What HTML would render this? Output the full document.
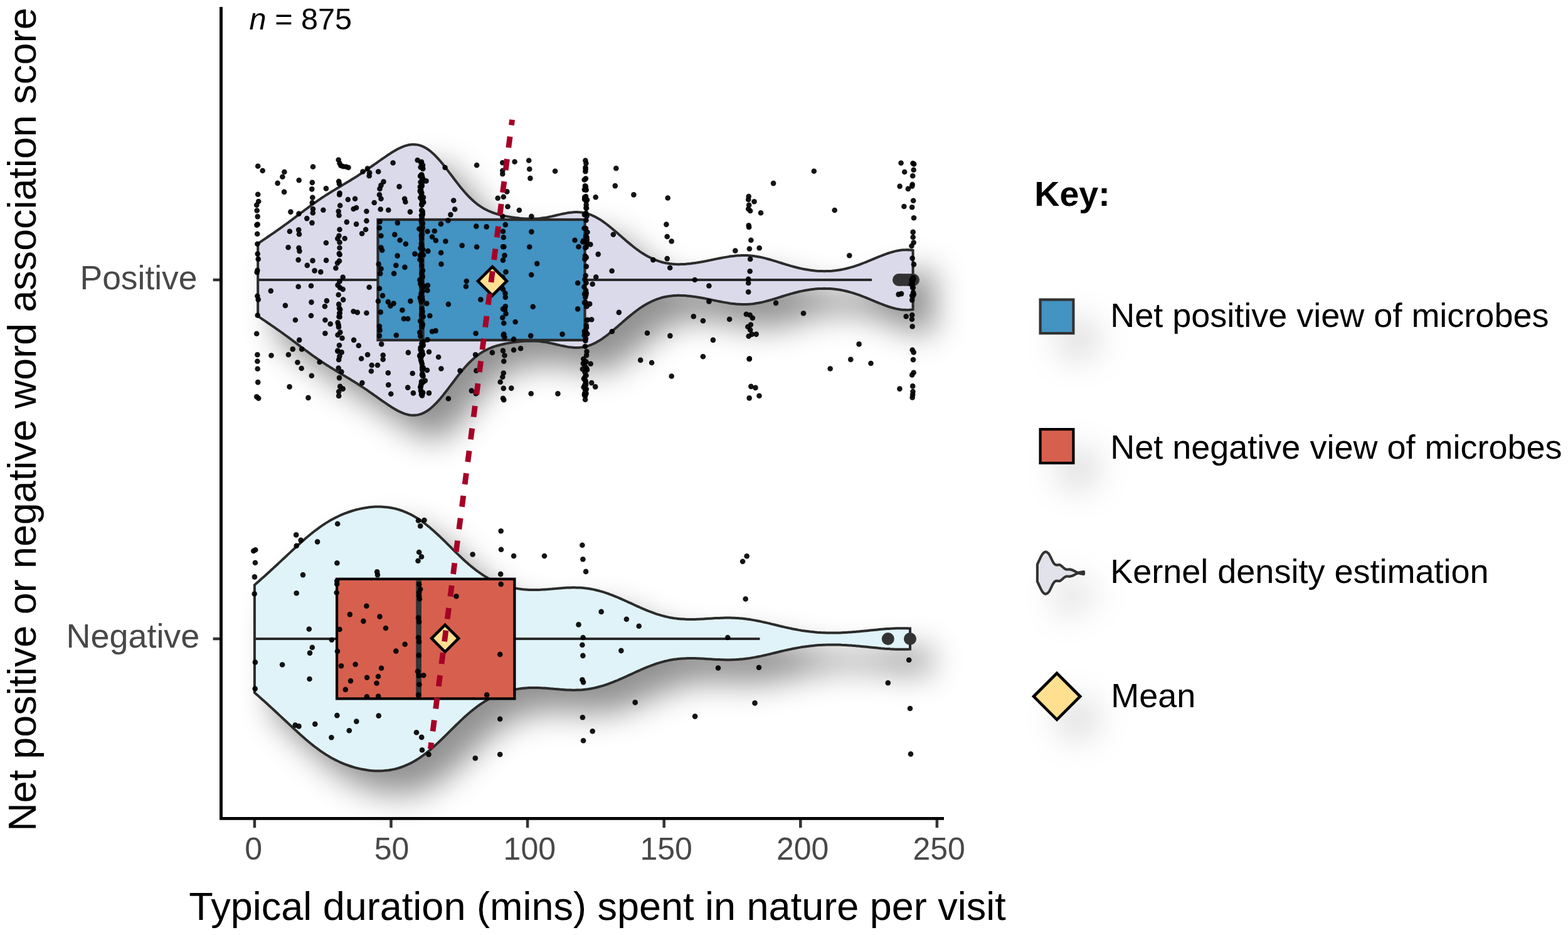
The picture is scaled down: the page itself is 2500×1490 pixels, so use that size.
<!DOCTYPE html>
<html lang="en"><head><meta charset="utf-8">
<title>Typical duration spent in nature per visit by net word association score</title>
<style>
html,body{margin:0;padding:0;background:#fff;}
body{width:2500px;height:1490px;overflow:hidden;}
svg{display:block;}
text{font-family:"Liberation Sans",sans-serif;}
.tk{fill:#484848;}
.lg{font-size:54px;fill:#000;}
.ax{font-size:62.8px;fill:#000;}
</style></head><body>
<svg width="2500" height="1490" viewBox="0 0 2500 1490" role="img" aria-label="Violin and box plots of typical duration spent in nature per visit by net word association score">
<defs>
<filter id="sh" x="-15%" y="-40%" width="135%" height="190%" color-interpolation-filters="sRGB"><feGaussianBlur in="SourceAlpha" stdDeviation="25"/><feOffset dx="32" dy="35" result="o"/><feFlood flood-color="#000" flood-opacity="0.43"/><feComposite in2="o" operator="in"/><feMerge><feMergeNode/><feMergeNode in="SourceGraphic"/></feMerge></filter>
<filter id="shl" x="-100%" y="-100%" width="400%" height="400%" color-interpolation-filters="sRGB"><feGaussianBlur in="SourceAlpha" stdDeviation="26"/><feOffset dx="33" dy="36" result="o"/><feFlood flood-color="#000" flood-opacity="0.15"/><feComposite in2="o" operator="in"/><feMerge><feMergeNode/><feMergeNode in="SourceGraphic"/></feMerge></filter>
</defs>
<rect width="2500" height="1490" fill="#fff"/>
<g filter="url(#sh)">
<path d="M411.2 388.3L414.2 386.2L417.2 384.2L420.2 382.1L423.2 380.1L426.2 378.0L429.2 376.0L432.2 373.9L435.2 371.9L438.2 369.8L441.2 367.7L444.2 365.6L447.2 363.5L450.2 361.3L453.2 359.2L456.2 357.0L459.2 354.8L462.2 352.6L465.2 350.3L468.2 348.1L471.2 345.8L474.2 343.6L477.2 341.3L480.2 339.0L483.2 336.8L486.2 334.5L489.2 332.3L492.2 330.1L495.2 327.9L498.2 325.7L501.2 323.6L504.2 321.5L507.2 319.4L510.2 317.3L513.2 315.3L516.2 313.4L519.2 311.4L522.2 309.5L525.2 307.6L528.2 305.8L531.2 303.9L534.2 302.1L537.2 300.3L540.2 298.5L543.2 296.7L546.2 294.9L549.2 293.1L552.2 291.3L555.2 289.5L558.2 287.7L561.2 285.8L564.2 284.0L567.2 282.1L570.2 280.2L573.2 278.2L576.2 276.3L579.2 274.3L582.2 272.3L585.2 270.3L588.2 268.2L591.2 266.1L594.2 264.0L597.2 261.9L600.2 259.8L603.2 257.7L606.2 255.5L609.2 253.4L612.2 251.3L615.2 249.3L618.2 247.2L621.2 245.3L624.2 243.3L627.2 241.5L630.2 239.7L633.2 238.0L636.2 236.5L639.2 235.1L642.2 233.8L645.2 232.7L648.2 231.8L651.2 231.0L654.2 230.5L657.2 230.2L660.2 230.2L663.2 230.4L666.2 230.9L669.2 231.6L672.2 232.6L675.2 233.9L678.2 235.5L681.2 237.3L684.2 239.4L687.2 241.8L690.2 244.4L693.2 247.3L696.2 250.3L699.2 253.6L702.2 257.0L705.2 260.6L708.2 264.4L711.2 268.2L714.2 272.1L717.2 276.1L720.2 280.0L723.2 284.0L726.2 288.0L729.2 291.9L732.2 295.7L735.2 299.4L738.2 303.0L741.2 306.5L744.2 309.8L747.2 313.0L750.2 316.0L753.2 318.8L756.2 321.5L759.2 324.0L762.2 326.3L765.2 328.4L768.2 330.4L771.2 332.2L774.2 333.8L777.2 335.3L780.2 336.7L783.2 337.9L786.2 339.0L789.2 340.1L792.2 341.0L795.2 341.8L798.2 342.6L801.2 343.3L804.2 344.0L807.2 344.6L810.2 345.1L813.2 345.6L816.2 346.1L819.2 346.6L822.2 347.0L825.2 347.3L828.2 347.7L831.2 348.0L834.2 348.2L837.2 348.4L840.2 348.5L843.2 348.6L846.2 348.7L849.2 348.6L852.2 348.6L855.2 348.4L858.2 348.2L861.2 347.9L864.2 347.5L867.2 347.1L870.2 346.6L873.2 346.1L876.2 345.5L879.2 344.9L882.2 344.2L885.2 343.5L888.2 342.8L891.2 342.1L894.2 341.4L897.2 340.8L900.2 340.2L903.2 339.6L906.2 339.1L909.2 338.7L912.2 338.4L915.2 338.1L918.2 338.0L921.2 338.1L924.2 338.2L927.2 338.5L930.2 339.0L933.2 339.6L936.2 340.4L939.2 341.3L942.2 342.4L945.2 343.7L948.2 345.1L951.2 346.7L954.2 348.4L957.2 350.2L960.2 352.2L963.2 354.3L966.2 356.5L969.2 358.8L972.2 361.2L975.2 363.7L978.2 366.2L981.2 368.7L984.2 371.3L987.2 374.0L990.2 376.6L993.2 379.2L996.2 381.8L999.2 384.4L1002.2 386.9L1005.2 389.4L1008.2 391.8L1011.2 394.2L1014.2 396.5L1017.2 398.7L1020.2 400.8L1023.2 402.8L1026.2 404.7L1029.2 406.5L1032.2 408.2L1035.2 409.8L1038.2 411.3L1041.2 412.7L1044.2 414.0L1047.2 415.1L1050.2 416.2L1053.2 417.1L1056.2 418.0L1059.2 418.7L1062.2 419.3L1065.2 419.8L1068.2 420.3L1071.2 420.6L1074.2 420.9L1077.2 421.1L1080.2 421.2L1083.2 421.2L1086.2 421.1L1089.2 421.0L1092.2 420.9L1095.2 420.6L1098.2 420.3L1101.2 420.0L1104.2 419.6L1107.2 419.2L1110.2 418.8L1113.2 418.3L1116.2 417.8L1119.2 417.2L1122.2 416.7L1125.2 416.1L1128.2 415.5L1131.2 414.9L1134.2 414.3L1137.2 413.6L1140.2 413.0L1143.2 412.4L1146.2 411.8L1149.2 411.2L1152.2 410.6L1155.2 410.1L1158.2 409.6L1161.2 409.1L1164.2 408.6L1167.2 408.2L1170.2 407.9L1173.2 407.6L1176.2 407.3L1179.2 407.2L1182.2 407.0L1185.2 407.0L1188.2 407.0L1191.2 407.1L1194.2 407.3L1197.2 407.5L1200.2 407.8L1203.2 408.2L1206.2 408.7L1209.2 409.2L1212.2 409.8L1215.2 410.4L1218.2 411.1L1221.2 411.9L1224.2 412.7L1227.2 413.5L1230.2 414.4L1233.2 415.3L1236.2 416.2L1239.2 417.1L1242.2 418.1L1245.2 419.0L1248.2 420.0L1251.2 420.9L1254.2 421.8L1257.2 422.7L1260.2 423.6L1263.2 424.4L1266.2 425.2L1269.2 426.0L1272.2 426.8L1275.2 427.5L1278.2 428.1L1281.2 428.8L1284.2 429.3L1287.2 429.8L1290.2 430.3L1293.2 430.7L1296.2 431.1L1299.2 431.4L1302.2 431.7L1305.2 431.9L1308.2 432.0L1311.2 432.1L1314.2 432.2L1317.2 432.1L1320.2 432.1L1323.2 431.9L1326.2 431.7L1329.2 431.4L1332.2 431.1L1335.2 430.7L1338.2 430.3L1341.2 429.7L1344.2 429.1L1347.2 428.5L1350.2 427.8L1353.2 427.0L1356.2 426.2L1359.2 425.3L1362.2 424.4L1365.2 423.4L1368.2 422.4L1371.2 421.3L1374.2 420.2L1377.2 419.0L1380.2 417.8L1383.2 416.6L1386.2 415.4L1389.2 414.2L1392.2 412.9L1395.2 411.6L1398.2 410.4L1401.2 409.2L1404.2 408.0L1407.2 406.8L1410.2 405.6L1413.2 404.6L1416.2 403.5L1419.2 402.6L1422.2 401.7L1425.2 400.9L1428.2 400.1L1431.2 399.5L1434.2 399.0L1437.2 398.6L1440.2 398.3L1443.2 398.2L1446.2 398.1L1449.2 398.2L1452.2 398.4L1455.2 398.7L1455.6 398.8L1455.6 493.2L1455.2 493.3L1452.2 493.6L1449.2 493.8L1446.2 493.9L1443.2 493.8L1440.2 493.7L1437.2 493.4L1434.2 493.0L1431.2 492.5L1428.2 491.9L1425.2 491.1L1422.2 490.3L1419.2 489.4L1416.2 488.5L1413.2 487.4L1410.2 486.4L1407.2 485.2L1404.2 484.0L1401.2 482.8L1398.2 481.6L1395.2 480.4L1392.2 479.1L1389.2 477.8L1386.2 476.6L1383.2 475.4L1380.2 474.2L1377.2 473.0L1374.2 471.8L1371.2 470.7L1368.2 469.6L1365.2 468.6L1362.2 467.6L1359.2 466.7L1356.2 465.8L1353.2 465.0L1350.2 464.2L1347.2 463.5L1344.2 462.9L1341.2 462.3L1338.2 461.7L1335.2 461.3L1332.2 460.9L1329.2 460.6L1326.2 460.3L1323.2 460.1L1320.2 459.9L1317.2 459.9L1314.2 459.8L1311.2 459.9L1308.2 460.0L1305.2 460.1L1302.2 460.3L1299.2 460.6L1296.2 460.9L1293.2 461.3L1290.2 461.7L1287.2 462.2L1284.2 462.7L1281.2 463.2L1278.2 463.9L1275.2 464.5L1272.2 465.2L1269.2 466.0L1266.2 466.8L1263.2 467.6L1260.2 468.4L1257.2 469.3L1254.2 470.2L1251.2 471.1L1248.2 472.0L1245.2 473.0L1242.2 473.9L1239.2 474.9L1236.2 475.8L1233.2 476.7L1230.2 477.6L1227.2 478.5L1224.2 479.3L1221.2 480.1L1218.2 480.9L1215.2 481.6L1212.2 482.2L1209.2 482.8L1206.2 483.3L1203.2 483.8L1200.2 484.2L1197.2 484.5L1194.2 484.7L1191.2 484.9L1188.2 485.0L1185.2 485.0L1182.2 485.0L1179.2 484.8L1176.2 484.7L1173.2 484.4L1170.2 484.1L1167.2 483.8L1164.2 483.4L1161.2 482.9L1158.2 482.4L1155.2 481.9L1152.2 481.4L1149.2 480.8L1146.2 480.2L1143.2 479.6L1140.2 479.0L1137.2 478.4L1134.2 477.7L1131.2 477.1L1128.2 476.5L1125.2 475.9L1122.2 475.3L1119.2 474.8L1116.2 474.2L1113.2 473.7L1110.2 473.2L1107.2 472.8L1104.2 472.4L1101.2 472.0L1098.2 471.7L1095.2 471.4L1092.2 471.1L1089.2 471.0L1086.2 470.9L1083.2 470.8L1080.2 470.8L1077.2 470.9L1074.2 471.1L1071.2 471.4L1068.2 471.7L1065.2 472.2L1062.2 472.7L1059.2 473.3L1056.2 474.0L1053.2 474.9L1050.2 475.8L1047.2 476.9L1044.2 478.0L1041.2 479.3L1038.2 480.7L1035.2 482.2L1032.2 483.8L1029.2 485.5L1026.2 487.3L1023.2 489.2L1020.2 491.2L1017.2 493.3L1014.2 495.5L1011.2 497.8L1008.2 500.2L1005.2 502.6L1002.2 505.1L999.2 507.6L996.2 510.2L993.2 512.8L990.2 515.4L987.2 518.0L984.2 520.7L981.2 523.3L978.2 525.8L975.2 528.3L972.2 530.8L969.2 533.2L966.2 535.5L963.2 537.7L960.2 539.8L957.2 541.8L954.2 543.6L951.2 545.3L948.2 546.9L945.2 548.3L942.2 549.6L939.2 550.7L936.2 551.6L933.2 552.4L930.2 553.0L927.2 553.5L924.2 553.8L921.2 553.9L918.2 554.0L915.2 553.9L912.2 553.6L909.2 553.3L906.2 552.9L903.2 552.4L900.2 551.8L897.2 551.2L894.2 550.6L891.2 549.9L888.2 549.2L885.2 548.5L882.2 547.8L879.2 547.1L876.2 546.5L873.2 545.9L870.2 545.4L867.2 544.9L864.2 544.5L861.2 544.1L858.2 543.8L855.2 543.6L852.2 543.4L849.2 543.4L846.2 543.3L843.2 543.4L840.2 543.5L837.2 543.6L834.2 543.8L831.2 544.0L828.2 544.3L825.2 544.7L822.2 545.0L819.2 545.4L816.2 545.9L813.2 546.4L810.2 546.9L807.2 547.4L804.2 548.0L801.2 548.7L798.2 549.4L795.2 550.2L792.2 551.0L789.2 551.9L786.2 553.0L783.2 554.1L780.2 555.3L777.2 556.7L774.2 558.2L771.2 559.8L768.2 561.6L765.2 563.6L762.2 565.7L759.2 568.0L756.2 570.5L753.2 573.2L750.2 576.0L747.2 579.0L744.2 582.2L741.2 585.5L738.2 589.0L735.2 592.6L732.2 596.3L729.2 600.1L726.2 604.0L723.2 608.0L720.2 612.0L717.2 615.9L714.2 619.9L711.2 623.8L708.2 627.6L705.2 631.4L702.2 635.0L699.2 638.4L696.2 641.7L693.2 644.7L690.2 647.6L687.2 650.2L684.2 652.6L681.2 654.7L678.2 656.5L675.2 658.1L672.2 659.4L669.2 660.4L666.2 661.1L663.2 661.6L660.2 661.8L657.2 661.8L654.2 661.5L651.2 661.0L648.2 660.2L645.2 659.3L642.2 658.2L639.2 656.9L636.2 655.5L633.2 654.0L630.2 652.3L627.2 650.5L624.2 648.7L621.2 646.7L618.2 644.8L615.2 642.7L612.2 640.7L609.2 638.6L606.2 636.5L603.2 634.3L600.2 632.2L597.2 630.1L594.2 628.0L591.2 625.9L588.2 623.8L585.2 621.7L582.2 619.7L579.2 617.7L576.2 615.7L573.2 613.8L570.2 611.8L567.2 609.9L564.2 608.0L561.2 606.2L558.2 604.3L555.2 602.5L552.2 600.7L549.2 598.9L546.2 597.1L543.2 595.3L540.2 593.5L537.2 591.7L534.2 589.9L531.2 588.1L528.2 586.2L525.2 584.4L522.2 582.5L519.2 580.6L516.2 578.6L513.2 576.7L510.2 574.7L507.2 572.6L504.2 570.5L501.2 568.4L498.2 566.3L495.2 564.1L492.2 561.9L489.2 559.7L486.2 557.5L483.2 555.2L480.2 553.0L477.2 550.7L474.2 548.4L471.2 546.2L468.2 543.9L465.2 541.7L462.2 539.4L459.2 537.2L456.2 535.0L453.2 532.8L450.2 530.7L447.2 528.5L444.2 526.4L441.2 524.3L438.2 522.2L435.2 520.1L432.2 518.1L429.2 516.0L426.2 514.0L423.2 511.9L420.2 509.9L417.2 507.8L414.2 505.8L411.2 503.7Z" fill="#dadaeb" stroke="#2b2b2b" stroke-width="4" stroke-linejoin="miter" stroke-miterlimit="3"/>
</g>
<g filter="url(#sh)">
<path d="M405.9 932.2L408.9 929.5L411.9 926.9L414.9 924.2L417.9 921.6L420.9 918.9L423.9 916.2L426.9 913.5L429.9 910.8L432.9 908.0L435.9 905.3L438.9 902.5L441.9 899.7L444.9 896.9L447.9 894.1L450.9 891.3L453.9 888.5L456.9 885.7L459.9 882.9L462.9 880.1L465.9 877.3L468.9 874.5L471.9 871.7L474.9 869.0L477.9 866.3L480.9 863.6L483.9 860.9L486.9 858.3L489.9 855.7L492.9 853.2L495.9 850.8L498.9 848.4L501.9 846.0L504.9 843.8L507.9 841.6L510.9 839.4L513.9 837.4L516.9 835.4L519.9 833.4L522.9 831.6L525.9 829.8L528.9 828.1L531.9 826.5L534.9 824.9L537.9 823.5L540.9 822.0L543.9 820.7L546.9 819.4L549.9 818.2L552.9 817.1L555.9 816.0L558.9 815.0L561.9 814.0L564.9 813.1L567.9 812.3L570.9 811.6L573.9 810.9L576.9 810.2L579.9 809.7L582.9 809.2L585.9 808.7L588.9 808.3L591.9 808.0L594.9 807.8L597.9 807.6L600.9 807.5L603.9 807.5L606.9 807.6L609.9 807.7L612.9 807.9L615.9 808.2L618.9 808.5L621.9 809.0L624.9 809.5L627.9 810.1L630.9 810.8L633.9 811.6L636.9 812.5L639.9 813.5L642.9 814.6L645.9 815.8L648.9 817.1L651.9 818.5L654.9 819.9L657.9 821.5L660.9 823.2L663.9 825.0L666.9 826.9L669.9 828.9L672.9 831.0L675.9 833.2L678.9 835.5L681.9 837.9L684.9 840.3L687.9 842.9L690.9 845.5L693.9 848.2L696.9 850.9L699.9 853.7L702.9 856.6L705.9 859.5L708.9 862.4L711.9 865.4L714.9 868.4L717.9 871.3L720.9 874.3L723.9 877.3L726.9 880.2L729.9 883.1L732.9 886.0L735.9 888.9L738.9 891.7L741.9 894.4L744.9 897.1L747.9 899.7L750.9 902.2L753.9 904.6L756.9 907.0L759.9 909.3L762.9 911.5L765.9 913.6L768.9 915.7L771.9 917.6L774.9 919.4L777.9 921.2L780.9 922.9L783.9 924.4L786.9 925.9L789.9 927.3L792.9 928.7L795.9 929.9L798.9 931.1L801.9 932.1L804.9 933.1L807.9 934.1L810.9 934.9L813.9 935.7L816.9 936.4L819.9 937.1L822.9 937.6L825.9 938.1L828.9 938.6L831.9 939.0L834.9 939.3L837.9 939.5L840.9 939.7L843.9 939.9L846.9 940.0L849.9 940.0L852.9 940.0L855.9 940.0L858.9 939.9L861.9 939.8L864.9 939.6L867.9 939.4L870.9 939.2L873.9 939.0L876.9 938.7L879.9 938.5L882.9 938.2L885.9 938.0L888.9 937.7L891.9 937.4L894.9 937.2L897.9 937.0L900.9 936.8L903.9 936.6L906.9 936.5L909.9 936.4L912.9 936.3L915.9 936.3L918.9 936.4L921.9 936.5L924.9 936.6L927.9 936.8L930.9 937.1L933.9 937.4L936.9 937.8L939.9 938.3L942.9 938.8L945.9 939.4L948.9 940.0L951.9 940.7L954.9 941.5L957.9 942.3L960.9 943.2L963.9 944.1L966.9 945.1L969.9 946.2L972.9 947.3L975.9 948.4L978.9 949.6L981.9 950.8L984.9 952.0L987.9 953.3L990.9 954.6L993.9 956.0L996.9 957.3L999.9 958.7L1002.9 960.1L1005.9 961.4L1008.9 962.8L1011.9 964.2L1014.9 965.6L1017.9 966.9L1020.9 968.2L1023.9 969.6L1026.9 970.8L1029.9 972.1L1032.9 973.3L1035.9 974.5L1038.9 975.6L1041.9 976.7L1044.9 977.8L1047.9 978.8L1050.9 979.7L1053.9 980.6L1056.9 981.4L1059.9 982.2L1062.9 982.9L1065.9 983.6L1068.9 984.2L1071.9 984.7L1074.9 985.2L1077.9 985.6L1080.9 985.9L1083.9 986.2L1086.9 986.5L1089.9 986.6L1092.9 986.8L1095.9 986.9L1098.9 986.9L1101.9 987.0L1104.9 986.9L1107.9 986.9L1110.9 986.8L1113.9 986.7L1116.9 986.5L1119.9 986.4L1122.9 986.2L1125.9 986.0L1128.9 985.8L1131.9 985.7L1134.9 985.5L1137.9 985.3L1140.9 985.1L1143.9 985.0L1146.9 984.9L1149.9 984.7L1152.9 984.7L1155.9 984.6L1158.9 984.6L1161.9 984.6L1164.9 984.6L1167.9 984.7L1170.9 984.8L1173.9 984.9L1176.9 985.1L1179.9 985.4L1182.9 985.6L1185.9 985.9L1188.9 986.3L1191.9 986.7L1194.9 987.1L1197.9 987.6L1200.9 988.1L1203.9 988.6L1206.9 989.2L1209.9 989.8L1212.9 990.4L1215.9 991.1L1218.9 991.7L1221.9 992.4L1224.9 993.1L1227.9 993.8L1230.9 994.6L1233.9 995.3L1236.9 996.0L1239.9 996.7L1242.9 997.5L1245.9 998.2L1248.9 998.9L1251.9 999.6L1254.9 1000.2L1257.9 1000.9L1260.9 1001.5L1263.9 1002.2L1266.9 1002.7L1269.9 1003.3L1272.9 1003.9L1275.9 1004.4L1278.9 1004.9L1281.9 1005.3L1284.9 1005.7L1287.9 1006.1L1290.9 1006.5L1293.9 1006.8L1296.9 1007.1L1299.9 1007.4L1302.9 1007.7L1305.9 1007.9L1308.9 1008.1L1311.9 1008.2L1314.9 1008.3L1317.9 1008.4L1320.9 1008.5L1323.9 1008.5L1326.9 1008.6L1329.9 1008.5L1332.9 1008.5L1335.9 1008.4L1338.9 1008.4L1341.9 1008.2L1344.9 1008.1L1347.9 1008.0L1350.9 1007.8L1353.9 1007.6L1356.9 1007.4L1359.9 1007.1L1362.9 1006.9L1365.9 1006.6L1368.9 1006.4L1371.9 1006.1L1374.9 1005.8L1377.9 1005.5L1380.9 1005.2L1383.9 1004.9L1386.9 1004.6L1389.9 1004.3L1392.9 1004.0L1395.9 1003.7L1398.9 1003.4L1401.9 1003.1L1404.9 1002.8L1407.9 1002.6L1410.9 1002.3L1413.9 1002.1L1416.9 1001.9L1419.9 1001.7L1422.9 1001.6L1425.9 1001.4L1428.9 1001.3L1431.9 1001.3L1434.9 1001.2L1437.9 1001.2L1440.9 1001.2L1443.9 1001.3L1446.9 1001.3L1449.9 1001.5L1451.0 1001.5L1451.0 1034.5L1449.9 1034.5L1446.9 1034.7L1443.9 1034.7L1440.9 1034.8L1437.9 1034.8L1434.9 1034.8L1431.9 1034.7L1428.9 1034.7L1425.9 1034.6L1422.9 1034.4L1419.9 1034.3L1416.9 1034.1L1413.9 1033.9L1410.9 1033.7L1407.9 1033.4L1404.9 1033.2L1401.9 1032.9L1398.9 1032.6L1395.9 1032.3L1392.9 1032.0L1389.9 1031.7L1386.9 1031.4L1383.9 1031.1L1380.9 1030.8L1377.9 1030.5L1374.9 1030.2L1371.9 1029.9L1368.9 1029.6L1365.9 1029.4L1362.9 1029.1L1359.9 1028.9L1356.9 1028.6L1353.9 1028.4L1350.9 1028.2L1347.9 1028.0L1344.9 1027.9L1341.9 1027.8L1338.9 1027.6L1335.9 1027.6L1332.9 1027.5L1329.9 1027.5L1326.9 1027.4L1323.9 1027.5L1320.9 1027.5L1317.9 1027.6L1314.9 1027.7L1311.9 1027.8L1308.9 1027.9L1305.9 1028.1L1302.9 1028.3L1299.9 1028.6L1296.9 1028.9L1293.9 1029.2L1290.9 1029.5L1287.9 1029.9L1284.9 1030.3L1281.9 1030.7L1278.9 1031.1L1275.9 1031.6L1272.9 1032.1L1269.9 1032.7L1266.9 1033.3L1263.9 1033.8L1260.9 1034.5L1257.9 1035.1L1254.9 1035.8L1251.9 1036.4L1248.9 1037.1L1245.9 1037.8L1242.9 1038.5L1239.9 1039.3L1236.9 1040.0L1233.9 1040.7L1230.9 1041.4L1227.9 1042.2L1224.9 1042.9L1221.9 1043.6L1218.9 1044.3L1215.9 1044.9L1212.9 1045.6L1209.9 1046.2L1206.9 1046.8L1203.9 1047.4L1200.9 1047.9L1197.9 1048.4L1194.9 1048.9L1191.9 1049.3L1188.9 1049.7L1185.9 1050.1L1182.9 1050.4L1179.9 1050.6L1176.9 1050.9L1173.9 1051.1L1170.9 1051.2L1167.9 1051.3L1164.9 1051.4L1161.9 1051.4L1158.9 1051.4L1155.9 1051.4L1152.9 1051.3L1149.9 1051.3L1146.9 1051.1L1143.9 1051.0L1140.9 1050.9L1137.9 1050.7L1134.9 1050.5L1131.9 1050.3L1128.9 1050.2L1125.9 1050.0L1122.9 1049.8L1119.9 1049.6L1116.9 1049.5L1113.9 1049.3L1110.9 1049.2L1107.9 1049.1L1104.9 1049.1L1101.9 1049.0L1098.9 1049.1L1095.9 1049.1L1092.9 1049.2L1089.9 1049.4L1086.9 1049.5L1083.9 1049.8L1080.9 1050.1L1077.9 1050.4L1074.9 1050.8L1071.9 1051.3L1068.9 1051.8L1065.9 1052.4L1062.9 1053.1L1059.9 1053.8L1056.9 1054.6L1053.9 1055.4L1050.9 1056.3L1047.9 1057.2L1044.9 1058.2L1041.9 1059.3L1038.9 1060.4L1035.9 1061.5L1032.9 1062.7L1029.9 1063.9L1026.9 1065.2L1023.9 1066.4L1020.9 1067.8L1017.9 1069.1L1014.9 1070.4L1011.9 1071.8L1008.9 1073.2L1005.9 1074.6L1002.9 1075.9L999.9 1077.3L996.9 1078.7L993.9 1080.0L990.9 1081.4L987.9 1082.7L984.9 1084.0L981.9 1085.2L978.9 1086.4L975.9 1087.6L972.9 1088.7L969.9 1089.8L966.9 1090.9L963.9 1091.9L960.9 1092.8L957.9 1093.7L954.9 1094.5L951.9 1095.3L948.9 1096.0L945.9 1096.6L942.9 1097.2L939.9 1097.7L936.9 1098.2L933.9 1098.6L930.9 1098.9L927.9 1099.2L924.9 1099.4L921.9 1099.5L918.9 1099.6L915.9 1099.7L912.9 1099.7L909.9 1099.6L906.9 1099.5L903.9 1099.4L900.9 1099.2L897.9 1099.0L894.9 1098.8L891.9 1098.6L888.9 1098.3L885.9 1098.0L882.9 1097.8L879.9 1097.5L876.9 1097.3L873.9 1097.0L870.9 1096.8L867.9 1096.6L864.9 1096.4L861.9 1096.2L858.9 1096.1L855.9 1096.0L852.9 1096.0L849.9 1096.0L846.9 1096.0L843.9 1096.1L840.9 1096.3L837.9 1096.5L834.9 1096.7L831.9 1097.0L828.9 1097.4L825.9 1097.9L822.9 1098.4L819.9 1098.9L816.9 1099.6L813.9 1100.3L810.9 1101.1L807.9 1101.9L804.9 1102.9L801.9 1103.9L798.9 1104.9L795.9 1106.1L792.9 1107.3L789.9 1108.7L786.9 1110.1L783.9 1111.6L780.9 1113.1L777.9 1114.8L774.9 1116.6L771.9 1118.4L768.9 1120.3L765.9 1122.4L762.9 1124.5L759.9 1126.7L756.9 1129.0L753.9 1131.4L750.9 1133.8L747.9 1136.3L744.9 1138.9L741.9 1141.6L738.9 1144.3L735.9 1147.1L732.9 1150.0L729.9 1152.9L726.9 1155.8L723.9 1158.7L720.9 1161.7L717.9 1164.7L714.9 1167.6L711.9 1170.6L708.9 1173.6L705.9 1176.5L702.9 1179.4L699.9 1182.3L696.9 1185.1L693.9 1187.8L690.9 1190.5L687.9 1193.1L684.9 1195.7L681.9 1198.1L678.9 1200.5L675.9 1202.8L672.9 1205.0L669.9 1207.1L666.9 1209.1L663.9 1211.0L660.9 1212.8L657.9 1214.5L654.9 1216.1L651.9 1217.5L648.9 1218.9L645.9 1220.2L642.9 1221.4L639.9 1222.5L636.9 1223.5L633.9 1224.4L630.9 1225.2L627.9 1225.9L624.9 1226.5L621.9 1227.0L618.9 1227.5L615.9 1227.8L612.9 1228.1L609.9 1228.3L606.9 1228.4L603.9 1228.5L600.9 1228.5L597.9 1228.4L594.9 1228.2L591.9 1228.0L588.9 1227.7L585.9 1227.3L582.9 1226.8L579.9 1226.3L576.9 1225.8L573.9 1225.1L570.9 1224.4L567.9 1223.7L564.9 1222.9L561.9 1222.0L558.9 1221.0L555.9 1220.0L552.9 1218.9L549.9 1217.8L546.9 1216.6L543.9 1215.3L540.9 1214.0L537.9 1212.5L534.9 1211.1L531.9 1209.5L528.9 1207.9L525.9 1206.2L522.9 1204.4L519.9 1202.6L516.9 1200.6L513.9 1198.6L510.9 1196.6L507.9 1194.4L504.9 1192.2L501.9 1190.0L498.9 1187.6L495.9 1185.2L492.9 1182.8L489.9 1180.3L486.9 1177.7L483.9 1175.1L480.9 1172.4L477.9 1169.7L474.9 1167.0L471.9 1164.3L468.9 1161.5L465.9 1158.7L462.9 1155.9L459.9 1153.1L456.9 1150.3L453.9 1147.5L450.9 1144.7L447.9 1141.9L444.9 1139.1L441.9 1136.3L438.9 1133.5L435.9 1130.7L432.9 1128.0L429.9 1125.2L426.9 1122.5L423.9 1119.8L420.9 1117.1L417.9 1114.4L414.9 1111.8L411.9 1109.1L408.9 1106.5L405.9 1103.8Z" fill="#e0f3f8" stroke="#2b2b2b" stroke-width="4" stroke-linejoin="miter" stroke-miterlimit="3"/>
</g>
<g stroke="#2b2b2b" stroke-width="4.2" fill="none">
<line x1="411.2" y1="446" x2="602.5" y2="446"/>
<line x1="932.5" y1="446" x2="1390" y2="446"/>
<rect x="602.5" y="350" width="330" height="192" fill="#4393c3"/>
<line x1="672.4" y1="350" x2="672.4" y2="542" stroke-width="8.6"/>
</g>
<g fill="#333">
<circle cx="1433" cy="446" r="10"/>
<circle cx="1437" cy="446" r="10"/>
<circle cx="1442" cy="446" r="10"/>
<circle cx="1447" cy="446" r="10"/>
<circle cx="1452" cy="446" r="10"/>
<circle cx="1456" cy="446" r="10"/>
</g>
<g stroke="#2b2b2b" stroke-width="4.2" fill="none">
<line x1="405.9" y1="1018" x2="537" y2="1018"/>
<line x1="820.4" y1="1018" x2="1211.5" y2="1018"/>
</g>
<rect x="537.1" y="922.7" width="283.3" height="190.7" fill="#d6604d" stroke="#000" stroke-width="4.2"/>
<line x1="667.6" y1="924.8" x2="667.6" y2="1111.3" stroke="#333" stroke-width="8.8"/>
<g fill="#333"><circle cx="1415.8" cy="1018" r="10"/><circle cx="1451" cy="1018" r="10"/></g>
<g fill="#000" fill-opacity="0.92">
<circle cx="411.2" cy="264.8" r="4.3"/><circle cx="418.7" cy="272.0" r="4.3"/><circle cx="411.2" cy="309.7" r="4.3"/><circle cx="412.2" cy="321.0" r="4.3"/><circle cx="409.2" cy="326.8" r="4.3"/><circle cx="409.7" cy="335.5" r="4.3"/><circle cx="410.7" cy="345.1" r="4.3"/><circle cx="410.7" cy="357.6" r="4.3"/><circle cx="409.4" cy="358.6" r="4.3"/><circle cx="410.2" cy="372.7" r="4.3"/><circle cx="410.4" cy="388.8" r="4.3"/><circle cx="410.7" cy="404.6" r="4.3"/><circle cx="411.7" cy="412.9" r="4.3"/><circle cx="410.4" cy="430.9" r="4.3"/><circle cx="409.7" cy="433.9" r="4.3"/><circle cx="410.4" cy="471.8" r="4.3"/><circle cx="411.7" cy="477.4" r="4.3"/><circle cx="410.7" cy="502.5" r="4.3"/><circle cx="409.2" cy="531.8" r="4.3"/><circle cx="410.4" cy="565.2" r="4.3"/><circle cx="453.4" cy="274.0" r="4.3"/><circle cx="450.4" cy="281.8" r="4.3"/><circle cx="442.6" cy="291.9" r="4.3"/><circle cx="453.1" cy="305.9" r="4.3"/><circle cx="476.7" cy="287.3" r="4.3"/><circle cx="463.4" cy="337.6" r="4.3"/><circle cx="476.5" cy="340.6" r="4.3"/><circle cx="461.9" cy="368.7" r="4.3"/><circle cx="476.2" cy="366.4" r="4.3"/><circle cx="477.0" cy="373.2" r="4.3"/><circle cx="459.6" cy="394.3" r="4.3"/><circle cx="476.5" cy="395.0" r="4.3"/><circle cx="477.5" cy="400.1" r="4.3"/><circle cx="475.7" cy="414.1" r="4.3"/><circle cx="489.8" cy="422.9" r="4.3"/><circle cx="489.3" cy="348.1" r="4.3"/><circle cx="475.7" cy="456.8" r="4.3"/><circle cx="431.8" cy="463.6" r="4.3"/><circle cx="454.9" cy="486.9" r="4.3"/><circle cx="470.9" cy="510.0" r="4.3"/><circle cx="477.2" cy="541.9" r="4.3"/><circle cx="481.2" cy="556.4" r="4.3"/><circle cx="466.7" cy="556.4" r="4.3"/><circle cx="459.9" cy="565.2" r="4.3"/><circle cx="432.5" cy="566.5" r="4.3"/><circle cx="499.0" cy="265.8" r="4.3"/><circle cx="497.8" cy="290.9" r="4.3"/><circle cx="497.3" cy="301.4" r="4.3"/><circle cx="498.3" cy="314.7" r="4.3"/><circle cx="497.8" cy="323.0" r="4.3"/><circle cx="499.0" cy="333.0" r="4.3"/><circle cx="498.8" cy="339.3" r="4.3"/><circle cx="497.5" cy="355.1" r="4.3"/><circle cx="498.5" cy="415.4" r="4.3"/><circle cx="496.0" cy="455.5" r="4.3"/><circle cx="496.5" cy="481.6" r="4.3"/><circle cx="496.0" cy="503.0" r="4.3"/><circle cx="519.9" cy="300.4" r="4.3"/><circle cx="515.4" cy="334.8" r="4.3"/><circle cx="519.9" cy="387.0" r="4.3"/><circle cx="520.1" cy="414.9" r="4.3"/><circle cx="501.6" cy="431.4" r="4.3"/><circle cx="511.3" cy="433.4" r="4.3"/><circle cx="520.9" cy="479.4" r="4.3"/><circle cx="517.9" cy="488.2" r="4.3"/><circle cx="518.4" cy="510.0" r="4.3"/><circle cx="526.7" cy="516.3" r="4.3"/><circle cx="518.4" cy="531.3" r="4.3"/><circle cx="539.7" cy="254.7" r="4.3"/><circle cx="541.5" cy="260.2" r="4.3"/><circle cx="543.5" cy="264.0" r="4.3"/><circle cx="547.2" cy="265.3" r="4.3"/><circle cx="551.8" cy="265.8" r="4.3"/><circle cx="555.5" cy="267.0" r="4.3"/><circle cx="540.2" cy="289.1" r="4.3"/><circle cx="541.0" cy="292.9" r="4.3"/><circle cx="542.2" cy="327.5" r="4.3"/><circle cx="539.7" cy="336.8" r="4.3"/><circle cx="540.5" cy="343.1" r="4.3"/><circle cx="541.5" cy="365.7" r="4.3"/><circle cx="540.5" cy="375.7" r="4.3"/><circle cx="549.7" cy="380.0" r="4.3"/><circle cx="541.5" cy="386.2" r="4.3"/><circle cx="541.5" cy="395.0" r="4.3"/><circle cx="541.7" cy="405.8" r="4.3"/><circle cx="541.0" cy="415.9" r="4.3"/><circle cx="538.0" cy="419.1" r="4.3"/><circle cx="535.4" cy="427.2" r="4.3"/><circle cx="546.7" cy="441.7" r="4.3"/><circle cx="541.5" cy="448.5" r="4.3"/><circle cx="542.2" cy="458.5" r="4.3"/><circle cx="546.7" cy="461.0" r="4.3"/><circle cx="539.7" cy="469.8" r="4.3"/><circle cx="547.2" cy="477.6" r="4.3"/><circle cx="540.2" cy="484.9" r="4.3"/><circle cx="541.0" cy="491.2" r="4.3"/><circle cx="541.7" cy="498.7" r="4.3"/><circle cx="541.7" cy="505.0" r="4.3"/><circle cx="540.0" cy="521.3" r="4.3"/><circle cx="538.5" cy="533.8" r="4.3"/><circle cx="545.5" cy="538.9" r="4.3"/><circle cx="541.0" cy="550.2" r="4.3"/><circle cx="538.5" cy="558.9" r="4.3"/><circle cx="544.7" cy="561.4" r="4.3"/><circle cx="554.8" cy="318.0" r="4.3"/><circle cx="566.1" cy="316.7" r="4.3"/><circle cx="563.6" cy="333.0" r="4.3"/><circle cx="568.1" cy="331.0" r="4.3"/><circle cx="552.8" cy="353.9" r="4.3"/><circle cx="568.1" cy="357.1" r="4.3"/><circle cx="584.4" cy="336.8" r="4.3"/><circle cx="584.4" cy="351.9" r="4.3"/><circle cx="583.1" cy="365.7" r="4.3"/><circle cx="577.1" cy="372.2" r="4.3"/><circle cx="588.7" cy="457.8" r="4.3"/><circle cx="563.6" cy="496.2" r="4.3"/><circle cx="569.8" cy="497.9" r="4.3"/><circle cx="584.4" cy="498.7" r="4.3"/><circle cx="564.1" cy="541.9" r="4.3"/><circle cx="571.8" cy="550.7" r="4.3"/><circle cx="586.1" cy="565.2" r="4.3"/><circle cx="576.1" cy="571.5" r="4.3"/><circle cx="578.4" cy="273.5" r="4.3"/><circle cx="585.9" cy="268.5" r="4.3"/><circle cx="589.2" cy="275.3" r="4.3"/><circle cx="588.7" cy="280.3" r="4.3"/><circle cx="603.2" cy="273.5" r="4.3"/><circle cx="611.5" cy="289.6" r="4.3"/><circle cx="607.5" cy="295.4" r="4.3"/><circle cx="605.5" cy="300.9" r="4.3"/><circle cx="605.0" cy="310.4" r="4.3"/><circle cx="607.5" cy="316.7" r="4.3"/><circle cx="596.7" cy="323.0" r="4.3"/><circle cx="606.7" cy="333.5" r="4.3"/><circle cx="619.3" cy="334.8" r="4.3"/><circle cx="605.7" cy="353.1" r="4.3"/><circle cx="605.0" cy="363.2" r="4.3"/><circle cx="607.5" cy="375.7" r="4.3"/><circle cx="607.5" cy="394.5" r="4.3"/><circle cx="609.2" cy="398.8" r="4.3"/><circle cx="603.7" cy="420.9" r="4.3"/><circle cx="607.5" cy="428.4" r="4.3"/><circle cx="606.2" cy="435.9" r="4.3"/><circle cx="605.0" cy="459.8" r="4.3"/><circle cx="610.0" cy="471.1" r="4.3"/><circle cx="603.0" cy="479.9" r="4.3"/><circle cx="606.7" cy="497.4" r="4.3"/><circle cx="605.0" cy="520.0" r="4.3"/><circle cx="605.7" cy="526.3" r="4.3"/><circle cx="605.0" cy="535.1" r="4.3"/><circle cx="608.2" cy="548.4" r="4.3"/><circle cx="610.7" cy="566.0" r="4.3"/><circle cx="626.6" cy="259.5" r="4.3"/><circle cx="636.6" cy="297.4" r="4.3"/><circle cx="633.8" cy="355.1" r="4.3"/><circle cx="629.3" cy="373.9" r="4.3"/><circle cx="637.6" cy="382.7" r="4.3"/><circle cx="646.9" cy="388.8" r="4.3"/><circle cx="633.6" cy="407.6" r="4.3"/><circle cx="631.3" cy="422.9" r="4.3"/><circle cx="645.4" cy="425.9" r="4.3"/><circle cx="628.1" cy="435.9" r="4.3"/><circle cx="618.8" cy="481.1" r="4.3"/><circle cx="622.5" cy="487.4" r="4.3"/><circle cx="627.6" cy="483.6" r="4.3"/><circle cx="641.4" cy="494.2" r="4.3"/><circle cx="643.9" cy="508.0" r="4.3"/><circle cx="650.2" cy="508.0" r="4.3"/><circle cx="631.8" cy="534.3" r="4.3"/><circle cx="654.4" cy="479.9" r="4.3"/><circle cx="661.4" cy="404.6" r="4.3"/><circle cx="653.9" cy="337.6" r="4.3"/><circle cx="645.1" cy="316.7" r="4.3"/><circle cx="646.4" cy="321.7" r="4.3"/><circle cx="650.9" cy="561.9" r="4.3"/><circle cx="665.7" cy="255.2" r="4.3"/><circle cx="679.5" cy="288.4" r="4.3"/><circle cx="681.5" cy="368.7" r="4.3"/><circle cx="692.8" cy="368.2" r="4.3"/><circle cx="689.1" cy="377.5" r="4.3"/><circle cx="694.8" cy="383.2" r="4.3"/><circle cx="682.3" cy="400.1" r="4.3"/><circle cx="682.0" cy="454.8" r="4.3"/><circle cx="681.5" cy="462.8" r="4.3"/><circle cx="680.3" cy="483.6" r="4.3"/><circle cx="685.3" cy="503.2" r="4.3"/><circle cx="689.1" cy="528.3" r="4.3"/><circle cx="694.6" cy="527.1" r="4.3"/><circle cx="681.5" cy="541.4" r="4.3"/><circle cx="684.0" cy="560.7" r="4.3"/><circle cx="699.1" cy="569.0" r="4.3"/><circle cx="709.6" cy="267.0" r="4.3"/><circle cx="723.2" cy="319.5" r="4.3"/><circle cx="725.2" cy="333.5" r="4.3"/><circle cx="718.4" cy="342.1" r="4.3"/><circle cx="714.4" cy="351.4" r="4.3"/><circle cx="702.9" cy="356.9" r="4.3"/><circle cx="710.4" cy="384.5" r="4.3"/><circle cx="703.1" cy="402.8" r="4.3"/><circle cx="703.4" cy="420.9" r="4.3"/><circle cx="714.9" cy="484.9" r="4.3"/><circle cx="736.7" cy="391.3" r="4.3"/><circle cx="743.8" cy="448.0" r="4.3"/><circle cx="743.0" cy="456.5" r="4.3"/><circle cx="760.1" cy="263.3" r="4.3"/><circle cx="759.3" cy="360.6" r="4.3"/><circle cx="775.7" cy="361.4" r="4.3"/><circle cx="760.1" cy="393.5" r="4.3"/><circle cx="766.4" cy="477.4" r="4.3"/><circle cx="758.6" cy="531.3" r="4.3"/><circle cx="758.1" cy="565.2" r="4.3"/><circle cx="801.3" cy="272.0" r="4.3"/><circle cx="801.3" cy="277.1" r="4.3"/><circle cx="808.3" cy="305.4" r="4.3"/><circle cx="802.8" cy="313.7" r="4.3"/><circle cx="793.7" cy="315.7" r="4.3"/><circle cx="809.5" cy="329.3" r="4.3"/><circle cx="801.3" cy="344.8" r="4.3"/><circle cx="805.8" cy="358.1" r="4.3"/><circle cx="802.0" cy="368.7" r="4.3"/><circle cx="802.8" cy="378.2" r="4.3"/><circle cx="802.0" cy="393.3" r="4.3"/><circle cx="804.5" cy="407.1" r="4.3"/><circle cx="802.0" cy="414.6" r="4.3"/><circle cx="806.5" cy="433.4" r="4.3"/><circle cx="803.3" cy="448.5" r="4.3"/><circle cx="802.0" cy="461.0" r="4.3"/><circle cx="805.8" cy="473.6" r="4.3"/><circle cx="805.8" cy="488.2" r="4.3"/><circle cx="802.0" cy="492.4" r="4.3"/><circle cx="806.5" cy="499.9" r="4.3"/><circle cx="801.3" cy="506.2" r="4.3"/><circle cx="803.3" cy="515.0" r="4.3"/><circle cx="803.3" cy="532.6" r="4.3"/><circle cx="804.5" cy="537.6" r="4.3"/><circle cx="802.0" cy="558.9" r="4.3"/><circle cx="804.5" cy="566.5" r="4.3"/><circle cx="820.6" cy="257.7" r="4.3"/><circle cx="843.2" cy="255.7" r="4.3"/><circle cx="844.2" cy="269.5" r="4.3"/><circle cx="845.4" cy="284.1" r="4.3"/><circle cx="885.1" cy="272.8" r="4.3"/><circle cx="827.9" cy="335.0" r="4.3"/><circle cx="847.4" cy="344.8" r="4.3"/><circle cx="847.4" cy="369.4" r="4.3"/><circle cx="844.2" cy="393.5" r="4.3"/><circle cx="856.2" cy="420.1" r="4.3"/><circle cx="847.2" cy="438.0" r="4.3"/><circle cx="849.7" cy="488.7" r="4.3"/><circle cx="821.6" cy="513.0" r="4.3"/><circle cx="846.2" cy="535.1" r="4.3"/><circle cx="819.1" cy="540.6" r="4.3"/><circle cx="830.1" cy="555.2" r="4.3"/><circle cx="819.1" cy="557.7" r="4.3"/><circle cx="784.9" cy="561.9" r="4.3"/><circle cx="896.6" cy="532.6" r="4.3"/><circle cx="916.5" cy="382.7" r="4.3"/><circle cx="921.2" cy="451.0" r="4.3"/><circle cx="921.2" cy="492.4" r="4.3"/><circle cx="922.5" cy="393.3" r="4.3"/><circle cx="410.4" cy="575.7" r="4.3"/><circle cx="410.7" cy="587.8" r="4.3"/><circle cx="411.2" cy="609.1" r="4.3"/><circle cx="409.2" cy="632.2" r="4.3"/><circle cx="412.2" cy="634.7" r="4.3"/><circle cx="474.4" cy="577.5" r="4.3"/><circle cx="480.7" cy="587.0" r="4.3"/><circle cx="496.8" cy="598.8" r="4.3"/><circle cx="461.6" cy="616.4" r="4.3"/><circle cx="491.5" cy="633.9" r="4.3"/><circle cx="509.6" cy="577.0" r="4.3"/><circle cx="540.2" cy="573.2" r="4.3"/><circle cx="539.7" cy="586.5" r="4.3"/><circle cx="541.0" cy="602.1" r="4.3"/><circle cx="542.2" cy="615.9" r="4.3"/><circle cx="546.7" cy="619.6" r="4.3"/><circle cx="540.2" cy="624.1" r="4.3"/><circle cx="540.2" cy="630.9" r="4.3"/><circle cx="592.7" cy="582.0" r="4.3"/><circle cx="602.0" cy="582.0" r="4.3"/><circle cx="591.9" cy="591.5" r="4.3"/><circle cx="577.4" cy="610.1" r="4.3"/><circle cx="610.7" cy="572.7" r="4.3"/><circle cx="618.8" cy="594.3" r="4.3"/><circle cx="619.3" cy="613.4" r="4.3"/><circle cx="623.3" cy="627.7" r="4.3"/><circle cx="650.2" cy="617.6" r="4.3"/><circle cx="657.7" cy="595.0" r="4.3"/><circle cx="658.9" cy="626.4" r="4.3"/><circle cx="681.0" cy="590.0" r="4.3"/><circle cx="677.8" cy="606.6" r="4.3"/><circle cx="684.0" cy="626.4" r="4.3"/><circle cx="703.4" cy="587.5" r="4.3"/><circle cx="733.5" cy="590.8" r="4.3"/><circle cx="714.9" cy="635.2" r="4.3"/><circle cx="751.8" cy="622.6" r="4.3"/><circle cx="759.3" cy="590.8" r="4.3"/><circle cx="758.8" cy="627.2" r="4.3"/><circle cx="803.3" cy="575.7" r="4.3"/><circle cx="802.8" cy="594.5" r="4.3"/><circle cx="801.3" cy="600.8" r="4.3"/><circle cx="797.7" cy="608.8" r="4.3"/><circle cx="802.8" cy="618.9" r="4.3"/><circle cx="815.3" cy="618.6" r="4.3"/><circle cx="802.0" cy="634.7" r="4.3"/><circle cx="803.3" cy="637.2" r="4.3"/><circle cx="846.7" cy="627.2" r="4.3"/><circle cx="889.4" cy="627.4" r="4.3"/><circle cx="933.4" cy="255.7" r="4.3"/><circle cx="934.4" cy="260.2" r="4.3"/><circle cx="933.9" cy="284.6" r="4.3"/><circle cx="933.9" cy="297.4" r="4.3"/><circle cx="982.3" cy="268.3" r="4.3"/><circle cx="980.8" cy="296.1" r="4.3"/><circle cx="949.7" cy="314.2" r="4.3"/><circle cx="1010.4" cy="310.4" r="4.3"/><circle cx="1064.7" cy="315.5" r="4.3"/><circle cx="1062.4" cy="357.6" r="4.3"/><circle cx="1063.7" cy="377.0" r="4.3"/><circle cx="1070.7" cy="384.5" r="4.3"/><circle cx="977.8" cy="373.7" r="4.3"/><circle cx="941.4" cy="389.5" r="4.3"/><circle cx="953.7" cy="405.1" r="4.3"/><circle cx="1041.3" cy="414.1" r="4.3"/><circle cx="1063.7" cy="412.1" r="4.3"/><circle cx="1068.2" cy="426.7" r="4.3"/><circle cx="975.6" cy="431.7" r="4.3"/><circle cx="950.2" cy="441.5" r="4.3"/><circle cx="944.7" cy="452.8" r="4.3"/><circle cx="1107.8" cy="446.0" r="4.3"/><circle cx="1130.4" cy="455.5" r="4.3"/><circle cx="1172.3" cy="399.5" r="4.3"/><circle cx="1210.7" cy="395.3" r="4.3"/><circle cx="1297.8" cy="272.8" r="4.3"/><circle cx="1233.1" cy="292.1" r="4.3"/><circle cx="1330.7" cy="335.0" r="4.3"/><circle cx="1354.3" cy="407.3" r="4.3"/><circle cx="1237.1" cy="482.9" r="4.3"/><circle cx="1130.4" cy="480.4" r="4.3"/><circle cx="986.8" cy="497.9" r="4.3"/><circle cx="940.2" cy="484.4" r="4.3"/><circle cx="943.2" cy="509.2" r="4.3"/><circle cx="1281.0" cy="499.2" r="4.3"/><circle cx="1105.8" cy="504.2" r="4.3"/><circle cx="1120.9" cy="511.2" r="4.3"/><circle cx="1163.1" cy="508.7" r="4.3"/><circle cx="975.8" cy="528.3" r="4.3"/><circle cx="1032.0" cy="530.8" r="4.3"/><circle cx="1068.4" cy="535.1" r="4.3"/><circle cx="1136.9" cy="541.9" r="4.3"/><circle cx="1369.6" cy="548.4" r="4.3"/><circle cx="1120.9" cy="568.2" r="4.3"/><circle cx="1193.7" cy="313.0" r="4.3"/><circle cx="1193.2" cy="318.0" r="4.3"/><circle cx="1202.5" cy="321.2" r="4.3"/><circle cx="1194.2" cy="326.8" r="4.3"/><circle cx="1193.2" cy="333.0" r="4.3"/><circle cx="1196.2" cy="336.0" r="4.3"/><circle cx="1213.0" cy="339.3" r="4.3"/><circle cx="1193.7" cy="359.4" r="4.3"/><circle cx="1194.2" cy="361.9" r="4.3"/><circle cx="1197.4" cy="382.7" r="4.3"/><circle cx="1194.9" cy="396.5" r="4.3"/><circle cx="1196.2" cy="412.9" r="4.3"/><circle cx="1195.7" cy="432.2" r="4.3"/><circle cx="1193.2" cy="444.7" r="4.3"/><circle cx="1193.2" cy="451.0" r="4.3"/><circle cx="1193.2" cy="465.3" r="4.3"/><circle cx="1189.9" cy="500.7" r="4.3"/><circle cx="1195.7" cy="502.0" r="4.3"/><circle cx="1199.9" cy="506.7" r="4.3"/><circle cx="1196.9" cy="517.5" r="4.3"/><circle cx="1192.4" cy="520.8" r="4.3"/><circle cx="1196.2" cy="525.8" r="4.3"/><circle cx="1198.7" cy="532.6" r="4.3"/><circle cx="1205.7" cy="532.6" r="4.3"/><circle cx="1193.7" cy="535.8" r="4.3"/><circle cx="1194.9" cy="571.5" r="4.3"/><circle cx="1436.6" cy="259.7" r="4.3"/><circle cx="1455.5" cy="260.2" r="4.3"/><circle cx="1457.2" cy="261.5" r="4.3"/><circle cx="1442.2" cy="274.0" r="4.3"/><circle cx="1456.7" cy="270.8" r="4.3"/><circle cx="1455.2" cy="280.3" r="4.3"/><circle cx="1434.6" cy="296.9" r="4.3"/><circle cx="1454.7" cy="294.1" r="4.3"/><circle cx="1447.9" cy="300.9" r="4.3"/><circle cx="1454.2" cy="296.6" r="4.3"/><circle cx="1456.2" cy="319.7" r="4.3"/><circle cx="1441.4" cy="329.0" r="4.3"/><circle cx="1454.2" cy="330.3" r="4.3"/><circle cx="1457.0" cy="347.3" r="4.3"/><circle cx="1455.7" cy="369.9" r="4.3"/><circle cx="1455.7" cy="378.0" r="4.3"/><circle cx="1456.7" cy="386.5" r="4.3"/><circle cx="1453.5" cy="392.0" r="4.3"/><circle cx="1454.7" cy="411.6" r="4.3"/><circle cx="1457.0" cy="421.4" r="4.3"/><circle cx="1456.0" cy="442.2" r="4.3"/><circle cx="1453.5" cy="446.0" r="4.3"/><circle cx="1454.7" cy="452.3" r="4.3"/><circle cx="1455.2" cy="458.5" r="4.3"/><circle cx="1456.0" cy="466.1" r="4.3"/><circle cx="1455.2" cy="472.3" r="4.3"/><circle cx="1454.2" cy="478.1" r="4.3"/><circle cx="1432.6" cy="469.1" r="4.3"/><circle cx="1437.1" cy="468.1" r="4.3"/><circle cx="1444.7" cy="504.2" r="4.3"/><circle cx="1454.2" cy="502.0" r="4.3"/><circle cx="1454.0" cy="508.7" r="4.3"/><circle cx="1454.7" cy="520.3" r="4.3"/><circle cx="1454.7" cy="557.7" r="4.3"/><circle cx="1456.7" cy="561.4" r="4.3"/><circle cx="1021.2" cy="573.9" r="4.3"/><circle cx="1039.1" cy="578.0" r="4.3"/><circle cx="1194.7" cy="572.2" r="4.3"/><circle cx="1070.7" cy="599.5" r="4.3"/><circle cx="1197.4" cy="615.9" r="4.3"/><circle cx="1204.5" cy="617.9" r="4.3"/><circle cx="1210.5" cy="630.7" r="4.3"/><circle cx="1194.7" cy="634.4" r="4.3"/><circle cx="1323.7" cy="587.5" r="4.3"/><circle cx="1356.3" cy="572.9" r="4.3"/><circle cx="1388.5" cy="579.0" r="4.3"/><circle cx="1434.4" cy="619.6" r="4.3"/><circle cx="1456.0" cy="573.2" r="4.3"/><circle cx="1456.7" cy="593.8" r="4.3"/><circle cx="1454.2" cy="597.5" r="4.3"/><circle cx="1455.2" cy="615.4" r="4.3"/><circle cx="1455.5" cy="624.1" r="4.3"/><circle cx="1455.2" cy="628.9" r="4.3"/><circle cx="1454.7" cy="633.4" r="4.3"/><circle cx="941.7" cy="579.7" r="4.3"/><circle cx="943.2" cy="610.1" r="4.3"/><circle cx="949.2" cy="616.4" r="4.3"/><circle cx="932.1" cy="575.7" r="4.3"/><circle cx="932.6" cy="583.2" r="4.3"/><circle cx="928.9" cy="588.3" r="4.3"/><circle cx="932.6" cy="593.3" r="4.3"/><circle cx="932.6" cy="600.8" r="4.3"/><circle cx="933.1" cy="606.3" r="4.3"/><circle cx="932.1" cy="627.2" r="4.3"/><circle cx="933.1" cy="630.9" r="4.3"/><circle cx="933.1" cy="636.7" r="4.3"/><circle cx="672.0" cy="502.1" r="4.3"/><circle cx="673.2" cy="285.2" r="4.3"/><circle cx="670.9" cy="279.7" r="4.3"/><circle cx="672.1" cy="448.3" r="4.3"/><circle cx="674.1" cy="284.2" r="4.3"/><circle cx="672.8" cy="292.0" r="4.3"/><circle cx="669.7" cy="304.4" r="4.3"/><circle cx="673.8" cy="341.7" r="4.3"/><circle cx="669.7" cy="474.4" r="4.3"/><circle cx="669.6" cy="406.8" r="4.3"/><circle cx="672.9" cy="579.9" r="4.3"/><circle cx="672.3" cy="366.6" r="4.3"/><circle cx="672.9" cy="373.7" r="4.3"/><circle cx="673.0" cy="564.0" r="4.3"/><circle cx="673.3" cy="497.6" r="4.3"/><circle cx="674.3" cy="397.6" r="4.3"/><circle cx="671.8" cy="280.4" r="4.3"/><circle cx="672.2" cy="335.2" r="4.3"/><circle cx="671.7" cy="375.8" r="4.3"/><circle cx="670.9" cy="477.6" r="4.3"/><circle cx="671.1" cy="555.9" r="4.3"/><circle cx="672.8" cy="520.1" r="4.3"/><circle cx="672.5" cy="454.9" r="4.3"/><circle cx="674.5" cy="586.2" r="4.3"/><circle cx="672.2" cy="625.6" r="4.3"/><circle cx="671.1" cy="302.3" r="4.3"/><circle cx="670.1" cy="315.0" r="4.3"/><circle cx="673.7" cy="441.4" r="4.3"/><circle cx="674.7" cy="544.7" r="4.3"/><circle cx="673.0" cy="472.9" r="4.3"/><circle cx="673.4" cy="518.7" r="4.3"/><circle cx="671.4" cy="480.9" r="4.3"/><circle cx="670.9" cy="573.0" r="4.3"/><circle cx="671.6" cy="612.3" r="4.3"/><circle cx="670.1" cy="280.8" r="4.3"/><circle cx="672.8" cy="521.1" r="4.3"/><circle cx="669.4" cy="566.2" r="4.3"/><circle cx="668.4" cy="364.7" r="4.3"/><circle cx="670.6" cy="266.5" r="4.3"/><circle cx="674.0" cy="431.1" r="4.3"/><circle cx="672.8" cy="280.1" r="4.3"/><circle cx="673.1" cy="546.1" r="4.3"/><circle cx="673.2" cy="404.6" r="4.3"/><circle cx="673.3" cy="584.8" r="4.3"/><circle cx="673.9" cy="464.0" r="4.3"/><circle cx="673.2" cy="589.3" r="4.3"/><circle cx="673.7" cy="362.4" r="4.3"/><circle cx="669.5" cy="413.7" r="4.3"/><circle cx="670.3" cy="617.1" r="4.3"/><circle cx="675.0" cy="314.6" r="4.3"/><circle cx="672.9" cy="345.5" r="4.3"/><circle cx="673.4" cy="439.9" r="4.3"/><circle cx="671.3" cy="259.5" r="4.3"/><circle cx="671.7" cy="415.1" r="4.3"/><circle cx="671.0" cy="615.4" r="4.3"/><circle cx="673.9" cy="516.9" r="4.3"/><circle cx="670.2" cy="511.6" r="4.3"/><circle cx="672.2" cy="278.2" r="4.3"/><circle cx="674.6" cy="585.9" r="4.3"/><circle cx="670.8" cy="557.2" r="4.3"/><circle cx="671.1" cy="296.8" r="4.3"/><circle cx="673.4" cy="495.9" r="4.3"/><circle cx="673.0" cy="336.3" r="4.3"/><circle cx="672.6" cy="318.9" r="4.3"/><circle cx="672.1" cy="258.1" r="4.3"/><circle cx="672.8" cy="314.7" r="4.3"/><circle cx="673.6" cy="267.6" r="4.3"/><circle cx="673.3" cy="585.9" r="4.3"/><circle cx="671.7" cy="352.6" r="4.3"/><circle cx="671.8" cy="388.3" r="4.3"/><circle cx="671.9" cy="576.4" r="4.3"/><circle cx="673.0" cy="630.4" r="4.3"/><circle cx="670.6" cy="290.2" r="4.3"/><circle cx="672.8" cy="296.3" r="4.3"/><circle cx="671.7" cy="568.8" r="4.3"/><circle cx="673.4" cy="318.5" r="4.3"/><circle cx="676.3" cy="456.1" r="4.3"/><circle cx="673.0" cy="313.0" r="4.3"/><circle cx="672.0" cy="456.0" r="4.3"/><circle cx="672.3" cy="624.9" r="4.3"/><circle cx="674.0" cy="355.9" r="4.3"/><circle cx="670.5" cy="395.5" r="4.3"/><circle cx="673.8" cy="457.7" r="4.3"/><circle cx="674.8" cy="550.1" r="4.3"/><circle cx="671.9" cy="562.3" r="4.3"/><circle cx="673.4" cy="627.3" r="4.3"/><circle cx="674.1" cy="564.9" r="4.3"/><circle cx="670.1" cy="535.5" r="4.3"/><circle cx="672.7" cy="391.3" r="4.3"/><circle cx="674.3" cy="268.9" r="4.3"/><circle cx="673.7" cy="355.2" r="4.3"/><circle cx="672.6" cy="517.7" r="4.3"/><circle cx="674.1" cy="609.4" r="4.3"/><circle cx="671.9" cy="628.5" r="4.3"/><circle cx="673.9" cy="340.7" r="4.3"/><circle cx="672.0" cy="343.1" r="4.3"/><circle cx="672.8" cy="492.0" r="4.3"/><circle cx="673.4" cy="595.6" r="4.3"/><circle cx="673.4" cy="502.9" r="4.3"/><circle cx="670.9" cy="557.9" r="4.3"/><circle cx="674.4" cy="599.2" r="4.3"/><circle cx="673.6" cy="551.4" r="4.3"/><circle cx="672.4" cy="324.9" r="4.3"/><circle cx="670.6" cy="553.9" r="4.3"/><circle cx="671.0" cy="622.4" r="4.3"/><circle cx="674.9" cy="406.4" r="4.3"/><circle cx="669.2" cy="529.8" r="4.3"/><circle cx="674.7" cy="321.8" r="4.3"/><circle cx="673.0" cy="597.3" r="4.3"/><circle cx="673.1" cy="560.4" r="4.3"/><circle cx="674.2" cy="625.6" r="4.3"/><circle cx="674.8" cy="504.5" r="4.3"/><circle cx="671.2" cy="307.1" r="4.3"/><circle cx="674.0" cy="263.3" r="4.3"/><circle cx="674.7" cy="455.5" r="4.3"/><circle cx="672.0" cy="608.1" r="4.3"/><circle cx="669.4" cy="567.8" r="4.3"/><circle cx="673.7" cy="337.1" r="4.3"/><circle cx="672.4" cy="348.2" r="4.3"/><circle cx="673.7" cy="477.9" r="4.3"/><circle cx="672.3" cy="307.2" r="4.3"/><circle cx="674.1" cy="599.3" r="4.3"/><circle cx="671.3" cy="476.8" r="4.3"/><circle cx="673.8" cy="597.1" r="4.3"/><circle cx="669.3" cy="446.1" r="4.3"/><circle cx="674.1" cy="457.4" r="4.3"/><circle cx="672.1" cy="423.0" r="4.3"/><circle cx="672.4" cy="326.7" r="4.3"/><circle cx="675.3" cy="322.6" r="4.3"/><circle cx="672.5" cy="435.6" r="4.3"/><circle cx="672.1" cy="380.2" r="4.3"/><circle cx="670.4" cy="452.4" r="4.3"/><circle cx="669.8" cy="297.8" r="4.3"/><circle cx="671.4" cy="468.1" r="4.3"/><circle cx="672.4" cy="547.6" r="4.3"/><circle cx="934.7" cy="467.1" r="4.3"/><circle cx="930.9" cy="603.5" r="4.3"/><circle cx="932.4" cy="445.4" r="4.3"/><circle cx="932.0" cy="468.6" r="4.3"/><circle cx="932.2" cy="529.5" r="4.3"/><circle cx="931.5" cy="457.1" r="4.3"/><circle cx="934.0" cy="613.3" r="4.3"/><circle cx="932.4" cy="613.5" r="4.3"/><circle cx="930.3" cy="383.5" r="4.3"/><circle cx="929.8" cy="579.1" r="4.3"/><circle cx="932.0" cy="342.2" r="4.3"/><circle cx="934.6" cy="320.4" r="4.3"/><circle cx="934.6" cy="377.1" r="4.3"/><circle cx="935.5" cy="560.2" r="4.3"/><circle cx="934.5" cy="598.3" r="4.3"/><circle cx="934.8" cy="518.5" r="4.3"/><circle cx="935.5" cy="344.2" r="4.3"/><circle cx="936.5" cy="370.0" r="4.3"/><circle cx="930.6" cy="617.0" r="4.3"/><circle cx="931.9" cy="629.6" r="4.3"/><circle cx="934.5" cy="576.5" r="4.3"/><circle cx="934.3" cy="469.8" r="4.3"/><circle cx="934.8" cy="410.3" r="4.3"/><circle cx="933.9" cy="539.4" r="4.3"/><circle cx="934.7" cy="302.6" r="4.3"/><circle cx="931.8" cy="302.1" r="4.3"/><circle cx="932.8" cy="407.7" r="4.3"/><circle cx="932.0" cy="317.7" r="4.3"/><circle cx="932.1" cy="628.0" r="4.3"/><circle cx="934.4" cy="331.3" r="4.3"/><circle cx="929.3" cy="385.5" r="4.3"/><circle cx="936.1" cy="387.1" r="4.3"/><circle cx="934.1" cy="339.7" r="4.3"/><circle cx="930.3" cy="572.0" r="4.3"/><circle cx="935.1" cy="383.2" r="4.3"/><circle cx="935.5" cy="488.3" r="4.3"/><circle cx="936.3" cy="532.0" r="4.3"/><circle cx="933.9" cy="527.9" r="4.3"/><circle cx="933.7" cy="439.3" r="4.3"/><circle cx="936.8" cy="509.8" r="4.3"/><circle cx="935.1" cy="566.1" r="4.3"/><circle cx="936.1" cy="318.5" r="4.3"/><circle cx="935.0" cy="586.8" r="4.3"/><circle cx="932.0" cy="482.4" r="4.3"/><circle cx="933.8" cy="608.3" r="4.3"/><circle cx="933.3" cy="473.6" r="4.3"/><circle cx="934.2" cy="376.4" r="4.3"/><circle cx="934.1" cy="313.0" r="4.3"/><circle cx="934.0" cy="364.0" r="4.3"/><circle cx="932.9" cy="552.0" r="4.3"/><circle cx="934.7" cy="393.7" r="4.3"/><circle cx="932.4" cy="412.9" r="4.3"/><circle cx="933.4" cy="302.1" r="4.3"/><circle cx="933.4" cy="543.0" r="4.3"/><circle cx="933.7" cy="481.7" r="4.3"/><circle cx="934.1" cy="611.0" r="4.3"/><circle cx="935.1" cy="331.8" r="4.3"/><circle cx="934.1" cy="462.8" r="4.3"/><circle cx="931.9" cy="577.3" r="4.3"/><circle cx="931.9" cy="527.8" r="4.3"/><circle cx="934.6" cy="627.1" r="4.3"/><circle cx="931.7" cy="534.2" r="4.3"/><circle cx="935.9" cy="510.3" r="4.3"/><circle cx="932.2" cy="314.3" r="4.3"/><circle cx="934.2" cy="339.7" r="4.3"/><circle cx="935.8" cy="382.1" r="4.3"/><circle cx="934.5" cy="351.0" r="4.3"/><circle cx="936.0" cy="589.4" r="4.3"/><circle cx="935.0" cy="522.0" r="4.3"/><circle cx="933.2" cy="394.8" r="4.3"/><circle cx="934.6" cy="450.8" r="4.3"/><circle cx="934.4" cy="384.7" r="4.3"/><circle cx="934.9" cy="620.1" r="4.3"/><circle cx="935.4" cy="378.4" r="4.3"/><circle cx="933.1" cy="621.4" r="4.3"/><circle cx="932.9" cy="296.4" r="4.3"/><circle cx="934.8" cy="424.6" r="4.3"/><circle cx="931.5" cy="363.7" r="4.3"/><circle cx="933.7" cy="466.1" r="4.3"/><circle cx="934.7" cy="326.2" r="4.3"/><circle cx="933.4" cy="273.2" r="4.3"/><circle cx="933.7" cy="269.6" r="4.3"/><circle cx="933.5" cy="266.8" r="4.3"/><circle cx="931.7" cy="286.5" r="4.3"/><circle cx="540.5" cy="504.6" r="4.3"/><circle cx="540.8" cy="404.1" r="4.3"/><circle cx="538.3" cy="380.3" r="4.3"/><circle cx="542.4" cy="529.6" r="4.3"/><circle cx="541.4" cy="499.2" r="4.3"/><circle cx="544.4" cy="592.5" r="4.3"/><circle cx="542.3" cy="493.2" r="4.3"/><circle cx="541.2" cy="310.2" r="4.3"/><circle cx="538.6" cy="454.4" r="4.3"/><circle cx="538.5" cy="559.8" r="4.3"/><circle cx="541.4" cy="567.9" r="4.3"/><circle cx="538.6" cy="514.1" r="4.3"/><circle cx="539.8" cy="518.0" r="4.3"/><circle cx="541.6" cy="307.9" r="4.3"/><circle cx="803.4" cy="393.3" r="4.3"/><circle cx="805.4" cy="467.4" r="4.3"/><circle cx="804.9" cy="493.4" r="4.3"/><circle cx="801.3" cy="441.5" r="4.3"/><circle cx="801.3" cy="259.2" r="4.3"/><circle cx="803.8" cy="446.6" r="4.3"/><circle cx="800.5" cy="458.7" r="4.3"/><circle cx="802.7" cy="534.3" r="4.3"/><circle cx="1455.6" cy="446.9" r="4.3"/><circle cx="1456.8" cy="469.3" r="4.3"/><circle cx="1456.4" cy="444.6" r="4.3"/><circle cx="1455.8" cy="458.2" r="4.3"/><circle cx="1452.7" cy="453.0" r="4.3"/><circle cx="1454.2" cy="471.0" r="4.3"/><circle cx="407.2" cy="876.2" r="4.3"/><circle cx="404.2" cy="878.0" r="4.3"/><circle cx="406.9" cy="896.8" r="4.3"/><circle cx="405.9" cy="919.4" r="4.3"/><circle cx="405.7" cy="946.2" r="4.3"/><circle cx="406.9" cy="1055.4" r="4.3"/><circle cx="406.7" cy="1097.6" r="4.3"/><circle cx="472.2" cy="852.4" r="4.3"/><circle cx="479.7" cy="860.9" r="4.3"/><circle cx="472.7" cy="869.7" r="4.3"/><circle cx="506.1" cy="863.4" r="4.3"/><circle cx="538.2" cy="834.8" r="4.3"/><circle cx="537.4" cy="897.3" r="4.3"/><circle cx="483.0" cy="916.1" r="4.3"/><circle cx="472.7" cy="945.2" r="4.3"/><circle cx="492.8" cy="1002.5" r="4.3"/><circle cx="497.8" cy="1031.8" r="4.3"/><circle cx="494.0" cy="1040.6" r="4.3"/><circle cx="450.1" cy="1059.2" r="4.3"/><circle cx="493.5" cy="1082.0" r="4.3"/><circle cx="601.2" cy="911.4" r="4.3"/><circle cx="602.0" cy="916.1" r="4.3"/><circle cx="537.2" cy="925.7" r="4.3"/><circle cx="537.2" cy="930.7" r="4.3"/><circle cx="536.7" cy="944.5" r="4.3"/><circle cx="541.5" cy="1003.0" r="4.3"/><circle cx="528.9" cy="1019.8" r="4.3"/><circle cx="538.0" cy="1037.9" r="4.3"/><circle cx="544.0" cy="1061.2" r="4.3"/><circle cx="584.4" cy="965.8" r="4.3"/><circle cx="557.8" cy="979.1" r="4.3"/><circle cx="579.4" cy="989.9" r="4.3"/><circle cx="605.5" cy="982.6" r="4.3"/><circle cx="615.0" cy="1001.0" r="4.3"/><circle cx="645.6" cy="1026.8" r="4.3"/><circle cx="631.3" cy="1037.6" r="4.3"/><circle cx="566.6" cy="1058.7" r="4.3"/><circle cx="608.0" cy="1064.7" r="4.3"/><circle cx="585.1" cy="1079.8" r="4.3"/><circle cx="603.0" cy="1078.0" r="4.3"/><circle cx="559.0" cy="1085.1" r="4.3"/><circle cx="600.5" cy="1088.8" r="4.3"/><circle cx="550.8" cy="1098.9" r="4.3"/><circle cx="584.9" cy="1110.2" r="4.3"/><circle cx="603.2" cy="1109.6" r="4.3"/><circle cx="667.0" cy="829.5" r="4.3"/><circle cx="676.5" cy="829.0" r="4.3"/><circle cx="670.2" cy="838.3" r="4.3"/><circle cx="668.2" cy="880.0" r="4.3"/><circle cx="672.0" cy="887.3" r="4.3"/><circle cx="666.5" cy="893.8" r="4.3"/><circle cx="668.2" cy="931.2" r="4.3"/><circle cx="670.2" cy="939.0" r="4.3"/><circle cx="668.2" cy="944.5" r="4.3"/><circle cx="668.2" cy="949.5" r="4.3"/><circle cx="669.0" cy="954.5" r="4.3"/><circle cx="667.0" cy="984.6" r="4.3"/><circle cx="668.2" cy="990.9" r="4.3"/><circle cx="667.0" cy="1016.0" r="4.3"/><circle cx="668.2" cy="1022.8" r="4.3"/><circle cx="667.7" cy="1044.4" r="4.3"/><circle cx="666.0" cy="1070.0" r="4.3"/><circle cx="667.7" cy="1076.8" r="4.3"/><circle cx="675.3" cy="1076.3" r="4.3"/><circle cx="668.5" cy="1090.8" r="4.3"/><circle cx="667.2" cy="1107.6" r="4.3"/><circle cx="727.5" cy="950.3" r="4.3"/><circle cx="753.6" cy="883.5" r="4.3"/><circle cx="798.7" cy="846.3" r="4.3"/><circle cx="799.0" cy="875.7" r="4.3"/><circle cx="819.1" cy="886.0" r="4.3"/><circle cx="868.0" cy="886.0" r="4.3"/><circle cx="798.2" cy="914.9" r="4.3"/><circle cx="798.7" cy="930.9" r="4.3"/><circle cx="797.2" cy="1042.9" r="4.3"/><circle cx="776.2" cy="1107.4" r="4.3"/><circle cx="922.5" cy="995.4" r="4.3"/><circle cx="537.4" cy="1140.1" r="4.3"/><circle cx="603.7" cy="1140.6" r="4.3"/><circle cx="568.3" cy="1149.6" r="4.3"/><circle cx="502.3" cy="1153.9" r="4.3"/><circle cx="470.7" cy="1155.6" r="4.3"/><circle cx="476.5" cy="1157.4" r="4.3"/><circle cx="556.8" cy="1164.2" r="4.3"/><circle cx="528.4" cy="1175.2" r="4.3"/><circle cx="664.0" cy="1167.2" r="4.3"/><circle cx="672.2" cy="1174.9" r="4.3"/><circle cx="673.0" cy="1195.3" r="4.3"/><circle cx="683.5" cy="1202.3" r="4.3"/><circle cx="797.2" cy="1145.8" r="4.3"/><circle cx="797.2" cy="1202.3" r="4.3"/><circle cx="757.8" cy="1208.3" r="4.3"/><circle cx="928.4" cy="868.7" r="4.3"/><circle cx="929.4" cy="891.3" r="4.3"/><circle cx="934.1" cy="910.9" r="4.3"/><circle cx="958.7" cy="974.9" r="4.3"/><circle cx="998.9" cy="986.7" r="4.3"/><circle cx="1018.7" cy="997.7" r="4.3"/><circle cx="929.6" cy="1016.0" r="4.3"/><circle cx="928.4" cy="1027.8" r="4.3"/><circle cx="929.4" cy="1044.9" r="4.3"/><circle cx="990.4" cy="1036.9" r="4.3"/><circle cx="928.4" cy="1083.3" r="4.3"/><circle cx="930.1" cy="1087.1" r="4.3"/><circle cx="1190.7" cy="886.3" r="4.3"/><circle cx="1184.1" cy="894.8" r="4.3"/><circle cx="1188.7" cy="954.5" r="4.3"/><circle cx="1160.3" cy="1016.0" r="4.3"/><circle cx="1145.0" cy="1064.5" r="4.3"/><circle cx="1210.0" cy="1063.7" r="4.3"/><circle cx="1012.7" cy="1119.4" r="4.3"/><circle cx="1203.5" cy="1120.4" r="4.3"/><circle cx="1449.2" cy="1051.7" r="4.3"/><circle cx="1415.8" cy="1088.3" r="4.3"/><circle cx="1451.0" cy="1129.0" r="4.3"/><circle cx="928.9" cy="1143.3" r="4.3"/><circle cx="944.7" cy="1165.2" r="4.3"/><circle cx="930.1" cy="1180.2" r="4.3"/><circle cx="1108.1" cy="1141.6" r="4.3"/><circle cx="1452.0" cy="1201.6" r="4.3"/>
</g>
<path d="M785.0 425.0 L808.0 448.0 L785.0 471.0 L762.0 448.0 Z" fill="#fee090" stroke="#000" stroke-width="4.6" stroke-linejoin="miter"/>
<path d="M709.6 995.8 L731.1 1017.3 L709.6 1038.8 L688.1 1017.3 Z" fill="#fee090" stroke="#000" stroke-width="4.6" stroke-linejoin="miter"/>
<line x1="816.6" y1="190.8" x2="686.4" y2="1193.5" stroke="#a50026" stroke-width="8.8" stroke-dasharray="17.8 18.27" stroke-dashoffset="9"/>
<g stroke="#000" stroke-width="4.6" fill="none">
<path d="M352.45 11.20 V1304.20 H1505.00" stroke-linejoin="miter"/>
</g>
<g stroke="#333" stroke-width="4.5">
<line x1="405.9" y1="1304.2" x2="405.9" y2="1319.0"/>
<line x1="623.5" y1="1304.2" x2="623.5" y2="1319.0"/>
<line x1="841.1" y1="1304.2" x2="841.1" y2="1319.0"/>
<line x1="1058.7" y1="1304.2" x2="1058.7" y2="1319.0"/>
<line x1="1276.3" y1="1304.2" x2="1276.3" y2="1319.0"/>
<line x1="1493.9" y1="1304.2" x2="1493.9" y2="1319.0"/>
<line x1="339.6" y1="446.0" x2="352.4" y2="446.0"/>
<line x1="339.6" y1="1018.0" x2="352.4" y2="1018.0"/>
</g>
<path d="M352.45 11.20 V1304.20 H1505.00" stroke="#000" stroke-width="4.6" fill="none"/>
<g class="tk" font-size="50" text-anchor="middle">
<text x="404.1" y="1369.8">0</text>
<text x="624.5" y="1369.8">50</text>
<text x="844.3" y="1369.8">100</text>
<text x="1062.1" y="1369.8">150</text>
<text x="1279.7" y="1369.8">200</text>
<text x="1497.1" y="1369.8">250</text>
</g>
<g class="tk" font-size="53.4" text-anchor="end">
<text x="314.5" y="460.5">Positive</text>
<text x="318.3" y="1032.4" font-size="53.9">Negative</text>
</g>
<text class="ax" x="301.2" y="1465.7" style="font-size:63px">Typical duration (mins) spent in nature per visit</text>
<text class="ax" transform="translate(57.3 1324.8) rotate(-90)">Net positive or negative word association score</text>
<text x="397.6" y="47.2" font-size="48.6"><tspan font-style="italic">n</tspan> = 875</text>
<text x="1649.3" y="327.9" font-size="55.6" font-weight="bold">Key:</text>
<rect x="1658.6" y="477.5" width="52.8" height="53.6" fill="#4393c3" stroke="#333" stroke-width="4.2" filter="url(#shl)"/>
<rect x="1658.6" y="684.1" width="52.8" height="53.8" fill="#d6604d" stroke="#000" stroke-width="4.2" filter="url(#shl)"/>
<path d="M1653.9 899.3 C1654.5 898.1 1656.2 894.4 1657.4 891.9 C1658.6 889.4 1659.9 886.4 1661.1 884.5 C1662.2 882.6 1663.2 881.5 1664.3 880.6 C1665.3 879.8 1666.4 879.4 1667.4 879.4 C1668.4 879.4 1669.5 880.1 1670.4 880.8 C1671.3 881.5 1672.1 882.2 1673.0 883.7 C1673.9 885.2 1675.0 887.6 1676.0 889.6 C1677.0 891.6 1677.9 894.0 1678.9 895.6 C1679.9 897.2 1680.9 898.5 1681.9 899.3 C1682.9 900.1 1683.7 900.3 1684.9 900.4 C1686.1 900.5 1688.0 899.7 1689.3 900.0 C1690.6 900.3 1691.8 901.4 1693.0 902.3 C1694.2 903.2 1695.5 904.8 1696.7 905.6 C1697.9 906.5 1698.9 907.1 1700.4 907.4 C1701.9 907.7 1704.1 907.3 1705.6 907.4 C1707.1 907.5 1708.1 907.8 1709.3 908.2 C1710.5 908.6 1711.8 909.4 1713.0 910.0 C1714.2 910.6 1715.6 911.6 1716.7 912.0 C1717.8 912.4 1718.4 912.6 1719.5 912.6 C1720.6 912.6 1722.1 912.1 1723.5 911.8 C1724.9 911.5 1727.2 911.1 1728.0 911.0 L1728.0 915.0 C1727.2 914.9 1724.9 914.5 1723.5 914.2 C1722.1 913.9 1720.6 913.4 1719.5 913.4 C1718.4 913.4 1717.8 913.6 1716.7 914.0 C1715.6 914.4 1714.2 915.4 1713.0 916.0 C1711.8 916.6 1710.5 917.4 1709.3 917.8 C1708.1 918.2 1707.1 918.5 1705.6 918.6 C1704.1 918.7 1701.9 918.3 1700.4 918.6 C1698.9 918.9 1697.9 919.5 1696.7 920.4 C1695.5 921.2 1694.2 922.8 1693.0 923.7 C1691.8 924.6 1690.6 925.7 1689.3 926.0 C1688.0 926.3 1686.1 925.5 1684.9 925.6 C1683.7 925.7 1682.9 925.9 1681.9 926.7 C1680.9 927.5 1679.9 928.8 1678.9 930.4 C1677.9 932.0 1677.0 934.4 1676.0 936.4 C1675.0 938.4 1673.9 940.8 1673.0 942.3 C1672.1 943.8 1671.3 944.5 1670.4 945.2 C1669.5 945.9 1668.4 946.6 1667.4 946.6 C1666.4 946.6 1665.3 946.2 1664.3 945.4 C1663.2 944.5 1662.2 943.4 1661.1 941.5 C1659.9 939.6 1658.6 936.6 1657.4 934.1 C1656.2 931.6 1654.5 927.9 1653.9 926.7 Z" fill="#e2e2ea" stroke="#333" stroke-width="4.1" stroke-linejoin="round" filter="url(#shl)"/>
<path d="M1685.1 1072.8 L1722.1 1109.8 L1685.1 1146.8 L1648.1 1109.8 Z" fill="#fee090" stroke="#000" stroke-width="4.7" stroke-linejoin="miter" filter="url(#shl)"/>
<g class="lg">
<text x="1770.2" y="521.1">Net positive view of microbes</text>
<text x="1770.2" y="731.2">Net negative view of microbes</text>
<text x="1770.2" y="929.2">Kernel density estimation</text>
<text x="1771.2" y="1126.8">Mean</text>
</g>
</svg>
</body></html>
